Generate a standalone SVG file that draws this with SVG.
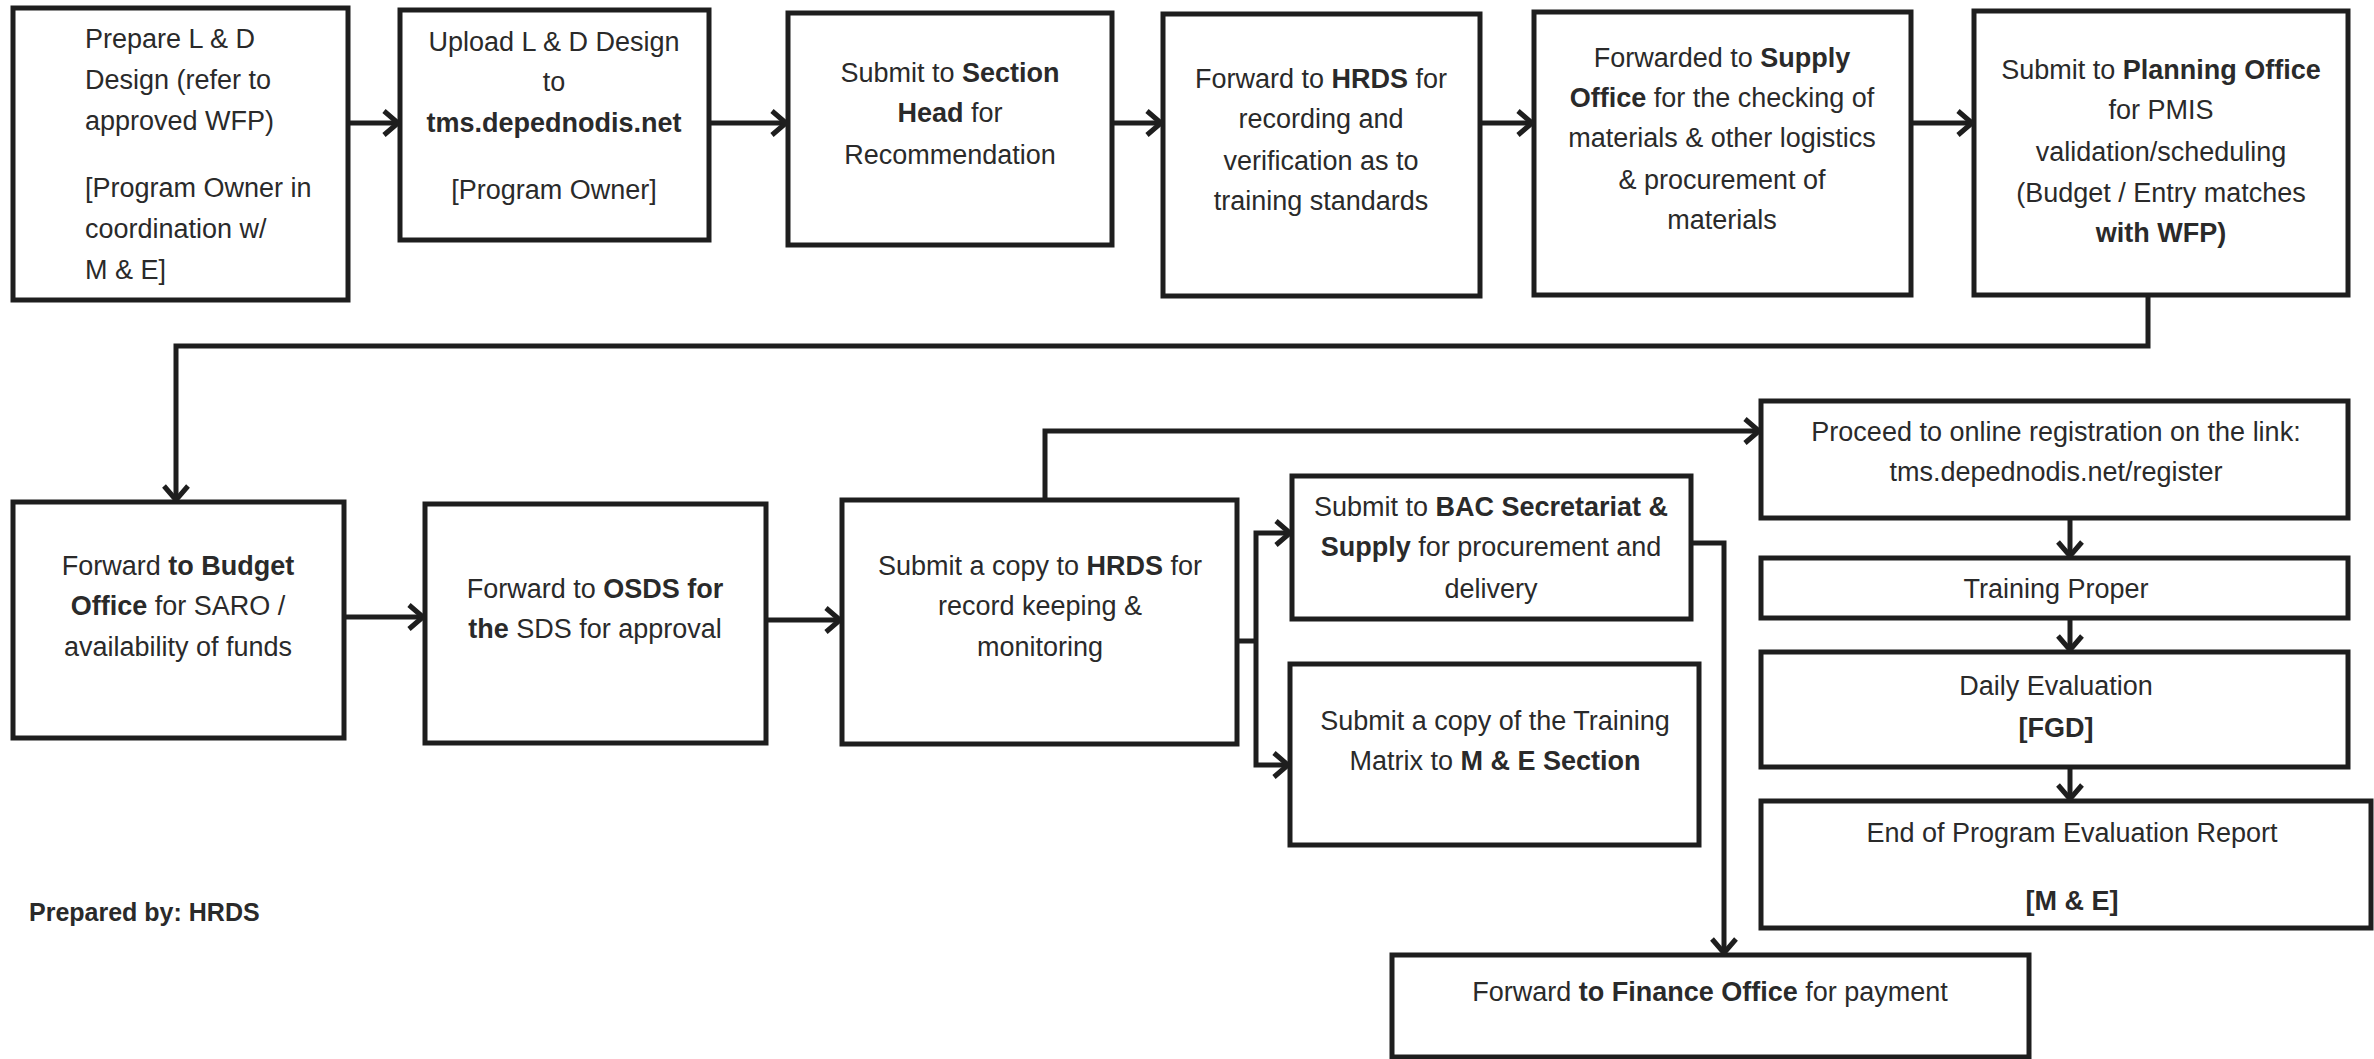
<svg xmlns="http://www.w3.org/2000/svg" width="2374" height="1059" viewBox="0 0 2374 1059">
<style>
.box{fill:#fff;stroke:#1e1e1e;stroke-width:5}
.t{font-family:"Liberation Sans",Arial,sans-serif;font-size:27px;fill:#2a2a2a}
.c{text-anchor:middle}
.b{font-weight:bold}
.con{fill:none;stroke:#1e1e1e;stroke-width:5;stroke-linejoin:miter}
.arw{fill:none;stroke:#1e1e1e;stroke-width:5;marker-end:url(#arr)}
</style>
<defs>
<marker id="arr" viewBox="0 0 20 28" refX="17" refY="14" markerWidth="20" markerHeight="28" markerUnits="userSpaceOnUse" orient="auto">
<path d="M3,2 L17,14 L3,26" fill="none" stroke="#1e1e1e" stroke-width="5"/>
</marker>
</defs>
<rect width="2374" height="1059" fill="#fff"/>

<g id="connectors">
<line class="arw" x1="348" y1="123" x2="398" y2="123"/>
<line class="arw" x1="709" y1="123" x2="786" y2="123"/>
<line class="arw" x1="1112" y1="123" x2="1161" y2="123"/>
<line class="arw" x1="1480" y1="123" x2="1532" y2="123"/>
<line class="arw" x1="1911" y1="123" x2="1972" y2="123"/>
<polyline class="arw" points="2148,295 2148,346 176,346 176,500"/>
<line class="arw" x1="344" y1="617" x2="423" y2="617"/>
<line class="arw" x1="766" y1="620" x2="840" y2="620"/>
<polyline class="arw" points="1045,500 1045,431 1759,431"/>
<polyline class="con" points="1237,641 1256,641"/>
<polyline class="arw" points="1256,641 1256,533 1290,533"/>
<polyline class="arw" points="1256,641 1256,765 1288,765"/>
<polyline class="arw" points="1691,543 1724,543 1724,953"/>
<line class="arw" x1="2070" y1="518" x2="2070" y2="556"/>
<line class="arw" x1="2070" y1="618" x2="2070" y2="650"/>
<line class="arw" x1="2070" y1="767" x2="2070" y2="799"/>
</g>

<g id="n1">
<rect class="box" x="13" y="8" width="335" height="292"/>
<text class="t" x="85" y="48">Prepare L &amp; D</text>
<text class="t" x="85" y="89">Design (refer to</text>
<text class="t" x="85" y="130">approved WFP)</text>
<text class="t" x="85" y="197">[Program Owner in</text>
<text class="t" x="85" y="238">coordination w/</text>
<text class="t" x="85" y="279">M &amp; E]</text>
</g>

<g id="n2">
<rect class="box" x="400" y="10" width="309" height="230"/>
<text class="t c" x="554" y="51">Upload L &amp; D Design</text>
<text class="t c" x="554" y="91">to</text>
<text class="t c b" x="554" y="132">tms.depednodis.net</text>
<text class="t c" x="554" y="199">[Program Owner]</text>
</g>

<g id="n3">
<rect class="box" x="788" y="13" width="324" height="232"/>
<text class="t c" x="950" y="82">Submit to <tspan class="b">Section</tspan></text>
<text class="t c" x="950" y="122"><tspan class="b">Head</tspan> for</text>
<text class="t c" x="950" y="164">Recommendation</text>
</g>

<g id="n4">
<rect class="box" x="1163" y="14" width="317" height="282"/>
<text class="t c" x="1321" y="88">Forward to <tspan class="b">HRDS</tspan> for</text>
<text class="t c" x="1321" y="128">recording and</text>
<text class="t c" x="1321" y="170">verification as to</text>
<text class="t c" x="1321" y="210">training standards</text>
</g>

<g id="n5">
<rect class="box" x="1534" y="12" width="377" height="283"/>
<text class="t c" x="1722" y="67">Forwarded to <tspan class="b">Supply</tspan></text>
<text class="t c" x="1722" y="107"><tspan class="b">Office</tspan> for the checking of</text>
<text class="t c" x="1722" y="147">materials &amp; other logistics</text>
<text class="t c" x="1722" y="189">&amp; procurement of</text>
<text class="t c" x="1722" y="229">materials</text>
</g>

<g id="n6">
<rect class="box" x="1974" y="11" width="374" height="284"/>
<text class="t c" x="2161" y="79">Submit to <tspan class="b">Planning Office</tspan></text>
<text class="t c" x="2161" y="119">for PMIS</text>
<text class="t c" x="2161" y="161">validation/scheduling</text>
<text class="t c" x="2161" y="202">(Budget / Entry matches</text>
<text class="t c b" x="2161" y="242">with WFP)</text>
</g>

<g id="n7">
<rect class="box" x="13" y="502" width="331" height="236"/>
<text class="t c" x="178" y="575">Forward <tspan class="b">to Budget</tspan></text>
<text class="t c" x="178" y="615"><tspan class="b">Office</tspan>  for SARO /</text>
<text class="t c" x="178" y="656">availability of funds</text>
</g>

<g id="n8">
<rect class="box" x="425" y="504" width="341" height="239"/>
<text class="t c" x="595" y="598">Forward to <tspan class="b">OSDS  for</tspan></text>
<text class="t c" x="595" y="638"><tspan class="b">the</tspan> SDS for approval</text>
</g>

<g id="n9">
<rect class="box" x="842" y="500" width="395" height="244"/>
<text class="t c" x="1040" y="575">Submit a copy to <tspan class="b">HRDS</tspan> for</text>
<text class="t c" x="1040" y="615">record keeping &amp;</text>
<text class="t c" x="1040" y="656">monitoring</text>
</g>

<g id="n10">
<rect class="box" x="1292" y="476" width="399" height="143"/>
<text class="t c" x="1491" y="516">Submit to <tspan class="b">BAC Secretariat &amp;</tspan></text>
<text class="t c" x="1491" y="556"><tspan class="b">Supply</tspan> for procurement and</text>
<text class="t c" x="1491" y="598">delivery</text>
</g>

<g id="n11">
<rect class="box" x="1290" y="664" width="409" height="181"/>
<text class="t c" x="1495" y="730">Submit a copy of the Training</text>
<text class="t c" x="1495" y="770">Matrix to <tspan class="b">M &amp; E Section</tspan></text>
</g>

<g id="n12">
<rect class="box" x="1392" y="955" width="637" height="102"/>
<text class="t c" x="1710" y="1001">Forward <tspan class="b">to Finance Office</tspan> for payment</text>
</g>

<g id="n13">
<rect class="box" x="1761" y="401" width="587" height="117"/>
<text class="t c" x="2056" y="441">Proceed to online registration on the link:</text>
<text class="t c" x="2056" y="481">tms.depednodis.net/register</text>
</g>

<g id="n14">
<rect class="box" x="1761" y="558" width="587" height="60"/>
<text class="t c" x="2056" y="598">Training Proper</text>
</g>

<g id="n15">
<rect class="box" x="1761" y="652" width="587" height="115"/>
<text class="t c" x="2056" y="695">Daily Evaluation</text>
<text class="t c b" x="2056" y="737">[FGD]</text>
</g>

<g id="n16">
<rect class="box" x="1761" y="801" width="610" height="127"/>
<text class="t c" x="2072" y="842">End of Program Evaluation Report</text>
<text class="t c b" x="2072" y="910">[M &amp; E]</text>
</g>

<g id="note">
<text class="t b" x="29" y="921" style="font-size:25px">Prepared by: HRDS</text>
</g>
</svg>
